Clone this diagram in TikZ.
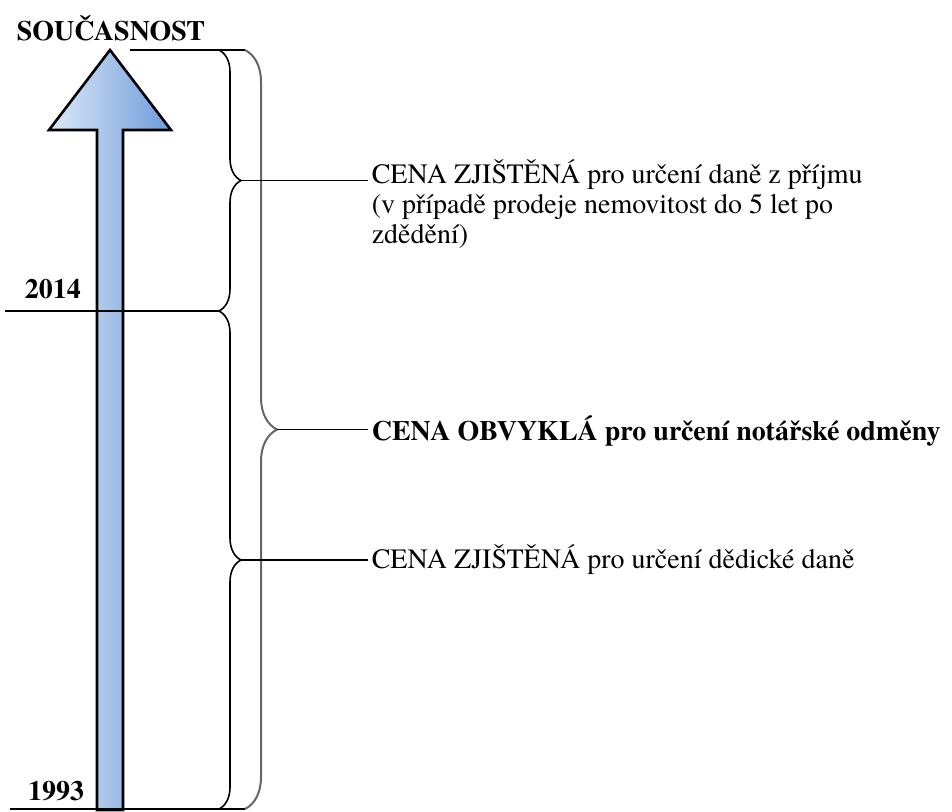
\documentclass[tikz,border=0pt]{standalone}
\usepackage{fontspec}
\setmainfont{texgyretermes}[Extension=.otf,UprightFont=*-regular,BoldFont=*-bold]
\usetikzlibrary{decorations.pathreplacing}
\definecolor{arrowlight}{HTML}{DDE8F8}
\definecolor{arrowdark}{HTML}{6E9BDB}

\begin{document}
\begin{tikzpicture}
  [x=.5pt,y=-.5pt,line width=.8pt,
   every node/.style={inner sep=1.5pt,font=\fontsize{14}{15}\selectfont},
   yearlbl/.style={font=\fontsize{14}{15}\selectfont\bfseries,anchor=base},
   price/.style={anchor=base west},
   bracefig/.style={decorate,decoration={brace,amplitude=#1}}]
  \useasboundingbox (0,0) rectangle (952,811);

  % time axis
  \shadedraw[left color=arrowlight,right color=arrowdark,line width=1.3pt,line join=miter]
    (110,50) -- (171,130) -- (123,130) -- (123,810) -- (97,810) -- (97,130) -- (49,130) -- cycle;

  \node[yearlbl] (now) at (111,40) {SOUČASNOST};
  \node[yearlbl] (y2014) at (53,298) {2014};
  \node[yearlbl] (y1993) at (56,800) {1993};

  \coordinate (topstart) at (130,50);
  \coordinate (cutstart) at (5,311);
  \coordinate (lowstart) at (10,809);
  \coordinate (in1) at (219,50);
  \coordinate (mid) at (219,311);
  \coordinate (in2) at (219,809);
  \coordinate (out1) at (245,50);
  \coordinate (out2) at (245,809);
  \coordinate (tipA) at (241,180.5);
  \coordinate (tipB) at (241,560);
  \coordinate (tipC) at (277,429.5);

  % braces
  \draw[bracefig=11pt] (in1) -- (mid);
  \draw[bracefig=11pt] (mid) -- (in2);
  \draw[bracefig=16pt,draw=black!60,line width=1pt] (out1) -- (out2);

  \draw (topstart) -- (out1);
  \draw (cutstart) -- (mid);
  \draw (lowstart) -- (out2);

  \node[price] (zjist1) at (368,183) {\begin{tabular}[t]{@{}l@{}}CENA ZJIŠTĚNÁ pro určení daně z příjmu\\(v případě prodeje nemovitost do 5 let po\\zdědění)\end{tabular}};
  \node[price,font=\fontsize{14}{15}\selectfont\bfseries] (obvykla) at (368,440) {CENA OBVYKLÁ pro určení notářské odměny};
  \node[price] (zjist2) at (368,568) {CENA ZJIŠTĚNÁ pro určení dědické daně};

  \draw (tipA) -- (tipA -| zjist1.west);
  \draw (tipC) -- (tipC -| obvykla.west);
  \draw (tipB) -- (tipB -| zjist2.west);
\end{tikzpicture}
\end{document}
